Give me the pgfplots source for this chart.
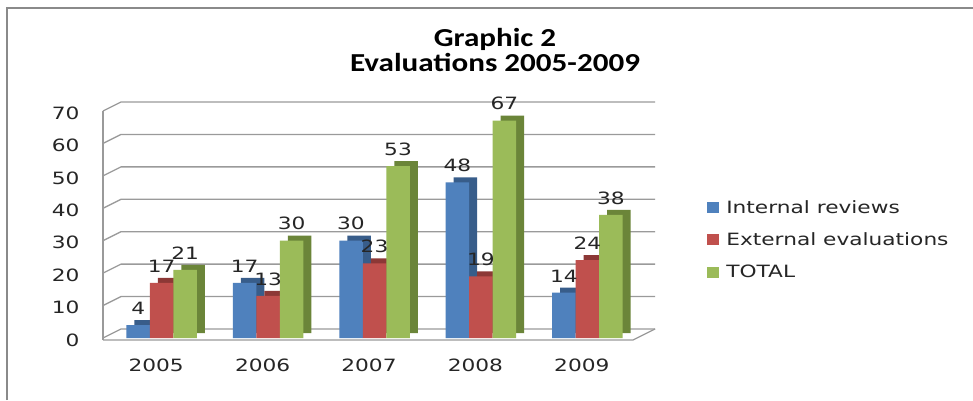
\documentclass[border=0pt]{standalone}
\usepackage{pgfplots}
\pgfplotsset{compat=1.18}
\usepackage{fontspec}
\setmainfont{DejaVu Sans}[FakeStretch=1.28]
\newfontfamily\titlefont{Carlito}[FakeStretch=1.2]
\definecolor{cblue}{HTML}{4F81BD}
\definecolor{cred}{HTML}{C0504D}
\definecolor{cgreen}{HTML}{9BBB59}
\definecolor{cblueD}{HTML}{385D8A}
\definecolor{credD}{HTML}{8C3836}
\definecolor{cgreenD}{HTML}{6B8539}
\definecolor{gridc}{HTML}{9A9A9A}
\definecolor{framec}{HTML}{8A8A8A}
\begin{document}
\begin{tikzpicture}[x=1bp,y=1bp]
\useasboundingbox (0,0) rectangle (973,400);
\fill[white] (0,0) rectangle (973,400);
\draw[framec, line width=1.5bp] (7,0) -- (7,392) -- (973,392);
\node[align=center, font=\titlefont\bfseries\fontsize{26}{25}\selectfont] at (495,350) {Graphic 2\\Evaluations 2005-2009};
% back wall and left wall
\foreach \v in {0,10,...,70} {
  \draw[gridc, line width=1.3bp] (103,{62+3.2429*\v}) -- ++(18,9) -- (655,{71+3.2429*\v});
}
\draw[gridc, line width=1.3bp] (103,60) -- (103,289);
% floor
\draw[gridc, line width=1.3bp] (103,60) -- (633,60) -- (655,71);
\begin{axis}[
  at={(103bp,62bp)}, anchor=south west,
  scale only axis, width=532bp, height=227bp,
  xmin=-0.5, xmax=4.5, ymin=0, ymax=70,
  clip=false,
  axis line style={draw=none},
  major tick length=0pt,
  xtick={0,1,2,3,4},
  xticklabels={2005,2006,2007,2008,2009},
  ytick={0,10,...,70},
  /pgf/number format/assume math mode=true,
  ticklabel style={font=\fontsize{17}{20}\selectfont, text=black!85},
  yticklabel style={xshift=-20bp, yshift=-2bp},
  xticklabel style={yshift=-17bp},
  ybar, bar width=23.5bp,
  nodes near coords style={font=\fontsize{17}{20}\selectfont, text=black!85, anchor=south, yshift=7bp},
  legend style={at={(1.13,0.625)}, anchor=north west, draw=none, fill=none,
    font=\fontsize{17}{20}\selectfont, text=black!85, row sep=14bp},
  legend cell align=left,
  legend image code/.code={\fill[#1] (0bp,-5.5bp) rectangle (12bp,5.5bp); \path (17bp,0bp);},
]
\addplot[fill=cblueD, draw=none, bar shift=-10bp, yshift=5bp, forget plot] coordinates {(0,4) (1,17) (2,30) (3,48) (4,14)};
\addplot[fill=cblue, draw=none, bar shift=-18bp, nodes near coords] coordinates {(0,4) (1,17) (2,30) (3,48) (4,14)};
\addplot[fill=credD, draw=none, bar shift=13.5bp, yshift=5bp, forget plot] coordinates {(0,17) (1,13) (2,23) (3,19) (4,24)};
\addplot[fill=cred, draw=none, bar shift=5.5bp, nodes near coords] coordinates {(0,17) (1,13) (2,23) (3,19) (4,24)};
\addplot[fill=cgreenD, draw=none, bar shift=37bp, yshift=5bp, forget plot] coordinates {(0,21) (1,30) (2,53) (3,67) (4,38)};
\addplot[fill=cgreen, draw=none, bar shift=29bp, nodes near coords] coordinates {(0,21) (1,30) (2,53) (3,67) (4,38)};
\legend{Internal reviews, External evaluations, TOTAL}
\end{axis}
\end{tikzpicture}
\end{document}
